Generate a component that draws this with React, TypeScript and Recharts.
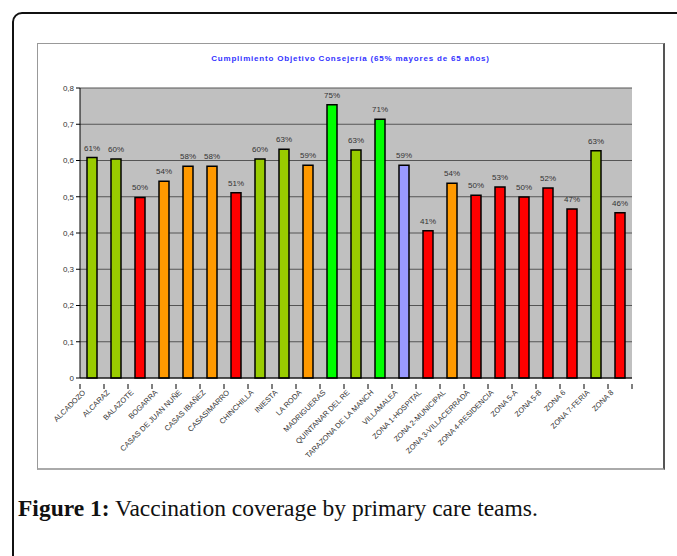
import React from 'react';
import { BarChart, Bar, XAxis, YAxis, CartesianGrid, Cell, LabelList } from 'recharts';

const teams = [
  'ALCADOZO', 'ALCARAZ', 'BALAZOTE', 'BOGARRA', 'CASAS DE JUAN NUÑE', 'CASAS IBAÑEZ',
  'CASASIMARRO', 'CHINCHILLA', 'INIESTA', 'LA RODA', 'MADRIGUERAS', 'QUINTANAR DEL RE',
  'TARAZONA DE LA MANCH', 'VILLAMALEA', 'ZONA 1-HOSPITAL', 'ZONA 2-MUNICIPAL',
  'ZONA 3-VILLACERRADA', 'ZONA 4-RESIDENCIA', 'ZONA 5-A', 'ZONA 5-B', 'ZONA 6',
  'ZONA 7-FERIA', 'ZONA 8',
];

const coverage = [
  0.608, 0.604, 0.498, 0.543, 0.584, 0.584, 0.511, 0.604, 0.631, 0.587, 0.754, 0.629,
  0.714, 0.587, 0.406, 0.537, 0.504, 0.527, 0.499, 0.524, 0.466, 0.627, 0.456,
];

const barColors = [
  '#99CC00', '#99CC00', '#FF0000', '#FF9900', '#FF9900', '#FF9900', '#FF0000', '#99CC00',
  '#99CC00', '#FF9900', '#00FF00', '#99CC00', '#00FF00', '#9999FF', '#FF0000', '#FF9900',
  '#FF0000', '#FF0000', '#FF0000', '#FF0000', '#FF0000', '#99CC00', '#FF0000',
];

const yTicks = [0, 0.1, 0.2, 0.3, 0.4, 0.5, 0.6, 0.7, 0.8];

const data = teams.map((name, i) => ({ name, value: coverage[i] }));

const fmtY = (v: number) => (v === 0 ? '0' : v.toFixed(1).replace('.', ','));
const fmtPct = (v: number) => `${Math.round(v * 100)}%`;

// Excel style: tick marks sit on the category boundaries, labels rotated 45°
const XTick = ({ x, y, payload, index, visibleTicksCount }: any) => {
  const ax = x - 6;
  const ay = y + 7;
  const half = payload.offset || 0;
  const isLast = index === visibleTicksCount - 1;
  return (
    <g>
      <line x1={x - half} x2={x - half} y1={y - 2} y2={y + 3} stroke="#000" />
      {isLast && <line x1={x + half} x2={x + half} y1={y - 2} y2={y + 3} stroke="#000" />}
      <text
        x={ax}
        y={ay}
        transform={`rotate(-45, ${ax}, ${ay})`}
        textAnchor="end"
        fontSize={7.5}
        fill="#333"
        fontFamily="'Liberation Sans', Arial, sans-serif"
      >
        {payload.value}
      </text>
    </g>
  );
};

const App = () => {
  return (
    <div
      style={{
        position: 'absolute',
        left: 0,
        top: 0,
        width: 677,
        height: 556,
        overflow: 'hidden',
        background: '#fff',
      }}
    >
      {/* outer figure frame */}
      <div
        style={{
          position: 'absolute',
          left: 12,
          top: 12,
          width: 700,
          height: 600,
          border: '2px solid #111',
          borderRadius: 10,
        }}
      />
      {/* chart box */}
      <div
        style={{
          position: 'absolute',
          left: 37,
          top: 43,
          width: 625,
          height: 424,
          borderTop: '1px solid #999',
          borderLeft: '1px solid #999',
          borderRight: '2px solid #555',
          borderBottom: '2px solid #aaa',
          background: '#fff',
        }}
      >
        <div
          style={{
            position: 'absolute',
            left: 0,
            top: 10,
            width: 625,
            textAlign: 'center',
            fontFamily: "'Liberation Sans', Arial, sans-serif",
            fontSize: 8,
            fontWeight: 'bold',
            letterSpacing: 0.8,
            color: '#3333FF',
          }}
        >
          Cumplimiento Objetivo Consejería (65% mayores de 65 años)
        </div>
        <BarChart
          width={625}
          height={426}
          data={data}
          margin={{ top: 45, right: 30, left: 0, bottom: 0 }}
          barSize={10}
          style={{ position: 'absolute', left: -1, top: -1 }}
        >
          <CartesianGrid vertical={false} stroke="#555" fill="#C0C0C0" strokeWidth={1} />
          <XAxis
            dataKey="name"
            interval={0}
            height={91}
            tick={<XTick />}
            tickLine={false}
            axisLine={{ stroke: '#000' }}
          />
          <YAxis
            width={43}
            domain={[0, 0.8]}
            ticks={yTicks}
            tickFormatter={fmtY}
            tick={{ fontSize: 8, fill: '#333', fontFamily: "'Liberation Sans', Arial, sans-serif" }}
            tickLine={{ stroke: '#000' }}
            tickSize={4}
            axisLine={{ stroke: '#000' }}
          />
          <Bar dataKey="value" stroke="#000" strokeWidth={1.5} isAnimationActive={false}>
            {data.map((d, i) => (
              <Cell key={d.name} fill={barColors[i]} />
            ))}
            <LabelList
              dataKey="value"
              position="top"
              offset={7}
              formatter={fmtPct}
              style={{ fontSize: 8, fill: '#333', fontFamily: "'Liberation Sans', Arial, sans-serif" }}
            />
          </Bar>
        </BarChart>
      </div>
      <div
        style={{
          position: 'absolute',
          left: 18,
          top: 495,
          fontFamily: "'Liberation Serif', 'DejaVu Serif', serif",
          fontSize: 23.5,
          color: '#111',
          whiteSpace: 'nowrap',
        }}
      >
        <b>Figure 1:</b> Vaccination coverage by primary care teams.
      </div>
    </div>
  );
};

export default App;
